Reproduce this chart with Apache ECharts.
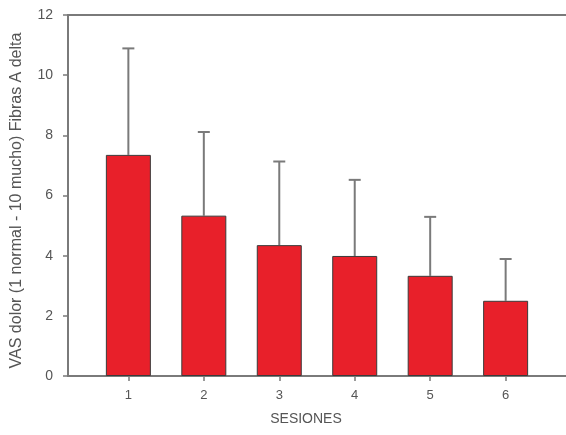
<!DOCTYPE html>
<html>
<head>
<meta charset="utf-8">
<script src="https://cdn.jsdelivr.net/npm/echarts@6/dist/echarts.min.js"></script>
<style>
  html, body { margin: 0; padding: 0; background: #fff; }
  #chart { width: 566px; height: 435px; }
</style>
</head>
<body>
<div id="chart"></div>
<script>
// Sessions, mean VAS pain score and standard deviation per session
const sessions = [1, 2, 3, 4, 5, 6];
const meanScore = [7.35, 5.33, 4.35, 3.99, 3.33, 2.5];
const stdDev = [3.54, 2.78, 2.78, 2.53, 1.96, 1.39];
const yTicks = [0, 2, 4, 6, 8, 10, 12];

const axisGray = '#7a7a7a';
const textGray = '#555';
const font = 'Liberation Sans, Arial, sans-serif';

const barData = sessions.map((s, i) => [s, meanScore[i]]);
const errData = sessions.map((s, i) => [s, meanScore[i], meanScore[i] + stdDev[i]]);

const chart = echarts.init(document.getElementById('chart'), null, { renderer: 'canvas' });

chart.setOption({
  backgroundColor: '#fff',
  animation: false,
  grid: { left: 68, right: 0, top: 15, bottom: 59, containLabel: false, outerBoundsMode: 'none' },
  xAxis: [
    {
      type: 'value',
      min: 0.2,
      max: 6.8,
      position: 'bottom',
      splitLine: { show: false },
      axisLine: { show: true, lineStyle: { color: axisGray, width: 2 } },
      axisTick: { show: true, customValues: sessions, length: 5, lineStyle: { color: axisGray, width: 1.5 } },
      axisLabel: { customValues: sessions, margin: 13, color: textGray, fontSize: 13, fontFamily: font },
      name: 'SESIONES',
      nameLocation: 'middle',
      nameGap: 36,
      nameTextStyle: { color: textGray, fontSize: 14, fontFamily: font, padding: [0, 22, 0, 0] }
    },
    {
      type: 'value',
      min: 0.2,
      max: 6.8,
      position: 'top',
      splitLine: { show: false },
      axisLine: { show: true, lineStyle: { color: axisGray, width: 2 } },
      axisTick: { show: false },
      axisLabel: { show: false }
    }
  ],
  yAxis: {
    type: 'value',
    min: 0,
    max: 12,
    interval: 2,
    splitLine: { show: false },
    axisLine: { show: true, lineStyle: { color: axisGray, width: 2 } },
    axisTick: { show: true, length: 5, lineStyle: { color: axisGray, width: 1.5 } },
    axisLabel: { margin: 15, color: textGray, fontSize: 14, fontFamily: font, customValues: yTicks },
    name: 'VAS dolor (1 normal - 10 mucho) Fibras A delta',
    nameLocation: 'middle',
    nameGap: 43,
    nameRotate: 90,
    nameTextStyle: { color: textGray, fontSize: 16, fontFamily: font, padding: [0, 10, 0, 0] }
  },
  series: [
    {
      type: 'custom',
      xAxisIndex: 0,
      z: 1,
      data: errData,
      renderItem: function (params, api) {
        const base = api.coord([api.value(0), api.value(1)]);
        const top = api.coord([api.value(0), api.value(2)]);
        const cap = 6;
        return {
          type: 'group',
          children: [
            { type: 'line', shape: { x1: top[0], y1: base[1], x2: top[0], y2: top[1] },
              style: { stroke: axisGray, lineWidth: 2 } },
            { type: 'line', shape: { x1: top[0] - cap, y1: top[1], x2: top[0] + cap, y2: top[1] },
              style: { stroke: axisGray, lineWidth: 2 } }
          ]
        };
      }
    },
    {
      type: 'bar',
      xAxisIndex: 0,
      z: 2,
      data: barData,
      barWidth: 45,
      itemStyle: { color: '#e8202a', borderColor: '#3a3a3a', borderWidth: 1 }
    }
  ]
});
</script>
</body>
</html>
